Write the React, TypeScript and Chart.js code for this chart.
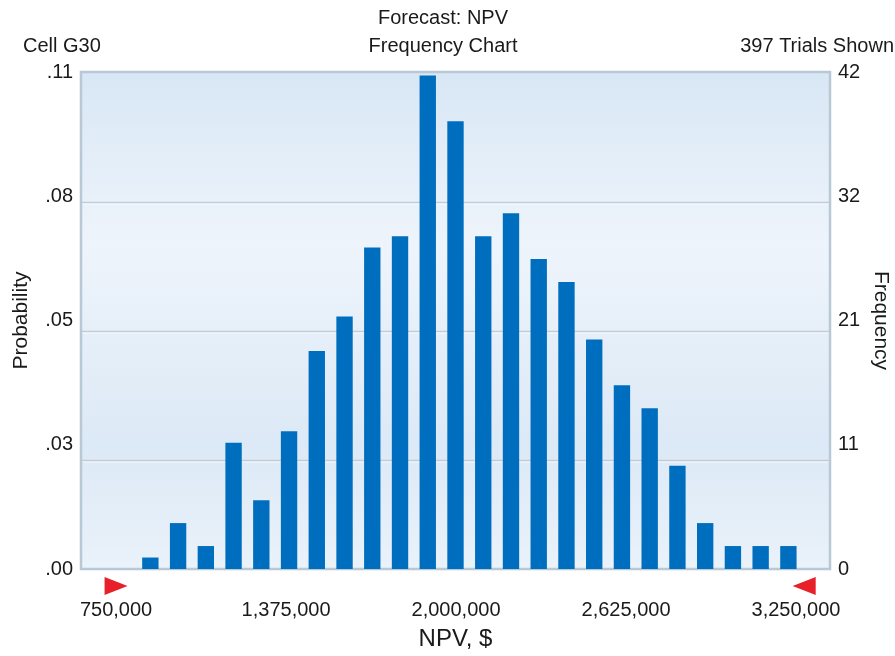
import React, { useEffect, useRef } from "react";
import { Chart, registerables } from "chart.js";

Chart.register(...registerables);

// ---- data ----
const binCenters = [
  876000, 978000, 1080000, 1182000, 1284000, 1386000, 1488000, 1590000,
  1692000, 1794000, 1896000, 1998000, 2100000, 2202000, 2304000, 2406000,
  2508000, 2610000, 2712000, 2814000, 2916000, 3018000, 3120000, 3222000,
];
const frequencies = [
  1, 4, 2, 11, 6, 12, 19, 22, 28, 29, 43, 39, 29, 31, 27, 25, 20, 16, 14, 9,
  4, 2, 2, 2,
];
const trials = 397;
const freqAxisMax = 43.3;
const xAxisRange = [621000, 3375000];
const xTickValues = [750000, 1375000, 2000000, 2625000, 3250000];
const probTickLabels = [".00", ".03", ".05", ".08", ".11"];
const freqTickLabels = ["0", "11", "21", "32", "42"];
// horizontal grid lines as they sit in the reference (frequency units)
const gridLineFreqs = [9.5, 20.7, 32.0];
const certaintyMarkers = [750000, 3280000];

const forecastTitle = "Forecast: NPV";
const chartSubtitle = "Frequency Chart";
const cellLabel = "Cell G30";
const trialsLabel = `${trials} Trials Shown`;
const xTitle = "NPV, $";
const leftTitle = "Probability";
const rightTitle = "Frequency";

const FONT = "'Liberation Sans', Arial, sans-serif";
const TEXT = "#1a1a1a";

const evenTicks = (scale: any, count: number) => {
  const out = [];
  for (let i = 0; i < count; i++) {
    out.push({ value: scale.min + ((scale.max - scale.min) * i) / (count - 1) });
  }
  scale.ticks = out;
};

const plotPlugin = {
  id: "plotDecor",
  beforeDraw(chart: any) {
    const { ctx, chartArea: a } = chart;
    ctx.save();
    const g = ctx.createLinearGradient(0, a.top, 0, a.bottom);
    g.addColorStop(0, "#d8e7f5");
    g.addColorStop(0.35, "#eef4fb");
    g.addColorStop(0.75, "#dce9f6");
    g.addColorStop(1, "#eaf2fa");
    ctx.fillStyle = g;
    ctx.fillRect(a.left, a.top, a.right - a.left, a.bottom - a.top);
    ctx.restore();
  },
  beforeDatasetsDraw(chart: any) {
    const { ctx, chartArea: a } = chart;
    const yF = chart.scales.yF;
    ctx.save();
    // grid lines
    gridLineFreqs.forEach((v) => {
      const y = Math.round(yF.getPixelForValue(v)) + 0.5;
      ctx.strokeStyle = "#c2ccd6";
      ctx.lineWidth = 1.5;
      ctx.beginPath();
      ctx.moveTo(a.left, y);
      ctx.lineTo(a.right, y);
      ctx.stroke();
      ctx.strokeStyle = "rgba(255,255,255,0.7)";
      ctx.lineWidth = 1;
      ctx.beginPath();
      ctx.moveTo(a.left, y + 1.5);
      ctx.lineTo(a.right, y + 1.5);
      ctx.stroke();
    });
    // plot frame
    ctx.strokeStyle = "#b9c8d5";
    ctx.lineWidth = 2.5;
    ctx.strokeRect(a.left, a.top, a.right - a.left, a.bottom - a.top);
    ctx.restore();
  },
  afterDraw(chart: any) {
    const { ctx, chartArea: a } = chart;
    const xs = chart.scales.x;
    ctx.save();
    // header texts
    ctx.fillStyle = TEXT;
    ctx.font = `20px ${FONT}`;
    ctx.textBaseline = "middle";
    ctx.textAlign = "center";
    ctx.fillText(forecastTitle, 443, 18);
    ctx.fillText(chartSubtitle, 443, 46);
    ctx.textAlign = "left";
    ctx.fillText(cellLabel, 23, 46);
    ctx.textAlign = "right";
    ctx.fillText(trialsLabel, 894, 46);
    // certainty grabbers
    ctx.fillStyle = "#e8202a";
    certaintyMarkers.forEach((v, i) => {
      const cx = xs.getPixelForValue(v);
      const cy = a.bottom + 17;
      const w = 23;
      const h = 18;
      ctx.beginPath();
      if (i === 0) {
        ctx.moveTo(cx - w / 2, cy - h / 2);
        ctx.lineTo(cx + w / 2, cy);
        ctx.lineTo(cx - w / 2, cy + h / 2);
      } else {
        ctx.moveTo(cx + w / 2, cy - h / 2);
        ctx.lineTo(cx - w / 2, cy);
        ctx.lineTo(cx + w / 2, cy + h / 2);
      }
      ctx.closePath();
      ctx.fill();
    });
    ctx.restore();
  },
};

export default function App() {
  const ref = useRef<HTMLCanvasElement | null>(null);

  useEffect(() => {
    if (!ref.current) return;
    const chart = new Chart(ref.current, {
      type: "bar",
      data: {
        datasets: [
          {
            data: binCenters.map((x, i) => ({ x, y: frequencies[i] })),
            backgroundColor: "#006ebe",
            borderWidth: 0,
            barPercentage: 0.59,
            categoryPercentage: 1,
            yAxisID: "yF",
          },
        ],
      },
      options: {
        animation: false,
        responsive: false,
        events: [],
        layout: { padding: { top: 72, left: 0, right: 0, bottom: 0 } },
        plugins: {
          legend: { display: false },
          tooltip: { enabled: false },
          title: { display: false },
        },
        scales: {
          x: {
            type: "linear",
            position: "bottom",
            offset: false,
            min: xAxisRange[0],
            max: xAxisRange[1],
            afterBuildTicks: (s: any) => {
              s.ticks = xTickValues.map((v) => ({ value: v }));
            },
            afterFit: (s: any) => {
              s.height = 87;
            },
            grid: { display: false, drawTicks: false, offset: false },
            border: { display: false },
            ticks: {
              padding: 29,
              color: TEXT,
              font: { family: FONT, size: 20 },
              maxRotation: 0,
              autoSkip: false,
              callback: (v: any) => Number(v).toLocaleString("en-US"),
            },
            title: {
              display: true,
              text: xTitle,
              color: TEXT,
              font: { family: FONT, size: 24 },
              padding: { top: 0, bottom: 2 },
            },
          },
          yP: {
            type: "linear",
            position: "left",
            min: 0,
            max: freqAxisMax / trials,
            afterBuildTicks: (s: any) => evenTicks(s, probTickLabels.length),
            afterFit: (s: any) => {
              s.width = 81;
            },
            grid: { display: false, drawTicks: false },
            border: { display: false },
            ticks: {
              padding: 8,
              color: TEXT,
              font: { family: FONT, size: 20 },
              callback: (_v: any, i: number) => probTickLabels[i],
            },
            title: {
              display: true,
              text: leftTitle,
              color: TEXT,
              font: { family: FONT, size: 21 },
              padding: { top: 9, bottom: 0 },
            },
          },
          yF: {
            type: "linear",
            position: "right",
            min: 0,
            max: freqAxisMax,
            afterBuildTicks: (s: any) => evenTicks(s, freqTickLabels.length),
            afterFit: (s: any) => {
              s.width = 65;
            },
            grid: { display: false, drawTicks: false },
            border: { display: false },
            ticks: {
              padding: 8,
              color: TEXT,
              font: { family: FONT, size: 20 },
              callback: (_v: any, i: number) => freqTickLabels[i],
            },
            title: {
              display: true,
              text: rightTitle,
              color: TEXT,
              font: { family: FONT, size: 21 },
              padding: { top: 2, bottom: 0 },
            },
          },
        },
      } as any,
      plugins: [plotPlugin],
    });
    return () => chart.destroy();
  }, []);

  return (
    <div style={{ position: "absolute", left: 0, top: 0, width: 895, height: 656, background: "#fff" }}>
      <canvas ref={ref} width={895} height={656} style={{ display: "block" }} />
    </div>
  );
}
